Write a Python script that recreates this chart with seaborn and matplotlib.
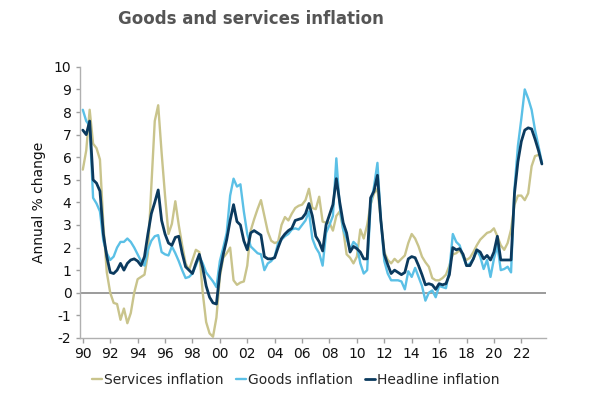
import numpy as np
import pandas as pd
import matplotlib
matplotlib.use("Agg")
import matplotlib.pyplot as plt
import seaborn as sns

# Quarterly observations, 1990 Q1 onwards (annual % change)
start_year = 1990
services = [
    5.45, 6.3, 8.1, 6.6,     6.4, 5.9, 3.0, 0.9,      0.0, -0.45, -0.5, -1.2,  -0.7, -1.35, -0.9, 0.0,
    0.6, 0.7, 0.8, 1.7,      4.7, 7.6, 8.3, 6.2,      4.3, 2.6, 3.05, 4.05,    3.0, 2.1, 1.3, 1.0,
    1.45, 1.9, 1.8, 0.0,     -1.3, -1.8, -1.95, -1.1, 0.7, 1.55, 1.75, 2.0,    0.55, 0.35, 0.45, 0.5,
    1.2, 2.75, 3.25, 3.7,    4.1, 3.4, 2.7, 2.3,      2.2, 2.25, 3.0, 3.35,    3.2, 3.5, 3.75, 3.85,
    3.9, 4.1, 4.6, 3.75,     3.7, 4.25, 3.15, 3.1,    3.1, 2.75, 3.4, 3.6,     2.8, 1.7, 1.55, 1.3,
    1.6, 2.8, 2.4, 3.0,      3.9, 4.4, 4.6, 3.2,      1.8, 1.45, 1.3, 1.5,     1.35, 1.5, 1.65, 2.2,
    2.6, 2.4, 2.05, 1.6,     1.35, 1.15, 0.65, 0.55,  0.55, 0.65, 0.8, 1.2,    1.7, 1.75, 1.9, 1.6,
    1.45, 1.55, 1.8, 2.1,    2.35, 2.5, 2.65, 2.7,    2.85, 2.5, 2.1, 1.9,     2.2, 2.8, 3.9, 4.3,
    4.3, 4.1, 4.4, 5.6,      6.05, 6.1, np.nan,
]
goods = [
    8.1, 7.6, 7.4, 4.2,      3.95, 3.6, 2.3, 1.75,    1.45, 1.6, 2.0, 2.25,    2.25, 2.4, 2.25, 2.0,
    1.7, 1.4, 1.2, 1.9,      2.3, 2.5, 2.55, 1.8,     1.7, 1.65, 2.05, 1.75,   1.4, 1.0, 0.65, 0.7,
    0.85, 1.2, 1.6, 1.3,     0.9, 0.7, 0.5, 0.25,     1.4, 2.0, 2.65, 4.3,     5.05, 4.7, 4.8, 3.6,
    2.6, 2.05, 1.9, 1.75,    1.7, 1.0, 1.3, 1.4,      1.6, 2.2, 2.35, 2.5,     2.6, 2.8, 2.85, 2.8,
    3.0, 3.2, 3.6, 2.4,      2.0, 1.75, 1.2, 2.65,    3.0, 3.4, 5.95, 3.8,     2.8, 2.4, 1.9, 2.25,
    2.1, 1.3, 0.85, 1.0,     3.9, 4.7, 5.75, 3.2,     1.4, 0.85, 0.55, 0.55,   0.55, 0.5, 0.15, 0.95,
    0.7, 1.1, 0.7, 0.3,      -0.35, 0.0, 0.1, -0.2,   0.3, 0.25, 0.2, 1.0,     2.6, 2.25, 2.1, 1.6,
    1.2, 1.3, 1.5, 1.9,      1.6, 1.05, 1.45, 0.7,    1.5, 2.1, 1.0, 1.05,     1.15, 0.9, 4.6, 6.5,
    7.7, 9.0, 8.6, 8.1,      7.2, 6.5, 5.75,
]
headline = [
    7.2, 7.0, 7.6, 5.0,      4.85, 4.5, 2.6, 1.6,     0.9, 0.85, 1.0, 1.3,     1.0, 1.3, 1.45, 1.5,
    1.4, 1.2, 1.6, 2.6,      3.5, 4.0, 4.55, 3.2,     2.6, 2.2, 2.1, 2.45,     2.5, 1.75, 1.15, 1.0,
    0.85, 1.3, 1.7, 1.1,     0.3, -0.2, -0.45, -0.5,  0.9, 1.7, 2.35, 3.2,     3.9, 3.15, 3.0, 2.3,
    1.9, 2.65, 2.75, 2.65,   2.55, 1.6, 1.5, 1.5,     1.55, 2.0, 2.4, 2.6,     2.75, 2.85, 3.2, 3.25,
    3.3, 3.5, 3.95, 3.4,     2.5, 2.25, 1.85, 3.0,    3.45, 3.9, 5.05, 4.0,    3.1, 2.65, 1.8, 2.05,
    1.95, 1.8, 1.5, 1.5,     4.2, 4.5, 5.2, 3.2,      1.7, 1.25, 0.85, 1.0,    0.9, 0.8, 0.9, 1.5,
    1.6, 1.55, 1.2, 0.8,     0.35, 0.4, 0.35, 0.15,   0.4, 0.35, 0.4, 0.8,     2.0, 1.9, 1.95, 1.7,
    1.2, 1.2, 1.5, 1.9,      1.8, 1.5, 1.65, 1.45,    1.8, 2.5, 1.45, 1.45,    1.45, 1.45, 4.4, 5.8,
    6.7, 7.2, 7.3, 7.25,     6.8, 6.3, 5.7,
]
series_names = ["Services inflation", "Goods inflation", "Headline inflation"]
colors = ["#c9c48c", "#5bc0e6", "#0b3a5e"]
year_ticks = list(range(1990, 2023, 2))
year_labels = [f"{y % 100:02d}" for y in year_ticks]

years = start_year + np.arange(len(headline)) * 0.25
df = pd.DataFrame({"year": years,
                   series_names[0]: services,
                   series_names[1]: goods,
                   series_names[2]: headline})
df_long = df.melt(id_vars="year", var_name="series", value_name="value").dropna()

sns.set_style("white")
plt.rcParams["font.family"] = ["DejaVu Sans"]
plt.rcParams["axes.unicode_minus"] = False

fig = plt.figure(figsize=(6, 3.98), dpi=100)
ax = fig.add_axes([0.133, 0.151, 0.777, 0.681])

ax.axhline(0, color="#808080", linewidth=1.1, zorder=1)
for name, col in zip(series_names, colors):
    sns.lineplot(data=df_long[df_long["series"] == name], x="year", y="value",
                 color=col, linewidth=2.0 if name.startswith("Headline") else 1.7,
                 label=name, ax=ax, zorder=3)

ax.set_xlim(1989.78, 2023.8)
ax.set_ylim(-2, 10)
ax.set_yticks(range(-2, 11))
ax.set_xticks(year_ticks)
ax.set_xticklabels(year_labels)
ax.tick_params(axis="both", labelsize=10, colors="#a0a0a0", labelcolor="#111111",
               length=3.5, width=1, pad=3, direction="out")
ax.tick_params(axis="y", left=True, length=3)
ax.tick_params(axis="x", bottom=True)
for side in ["top", "right"]:
    ax.spines[side].set_visible(False)
for side in ["left", "bottom"]:
    ax.spines[side].set_color("#b0b0b0")
    ax.spines[side].set_linewidth(1)
ax.set_xlabel("")
ax.set_ylabel("Annual % change", fontsize=10, color="#111111", labelpad=6)

handles, labels = ax.get_legend_handles_labels()
ax.get_legend().remove()
fig.legend(handles, labels, loc="center", bbox_to_anchor=(0.493, 0.045), ncol=3,
           frameon=False, fontsize=10, handlelength=0.7, handletextpad=0.15,
           columnspacing=0.9)

fig.text(118 / 600, 1 - 19 / 398, "Goods and services inflation", ha="left", va="center",
         fontsize=12, fontweight="bold", color="#555555")

fig.savefig("out.png", dpi=100)
